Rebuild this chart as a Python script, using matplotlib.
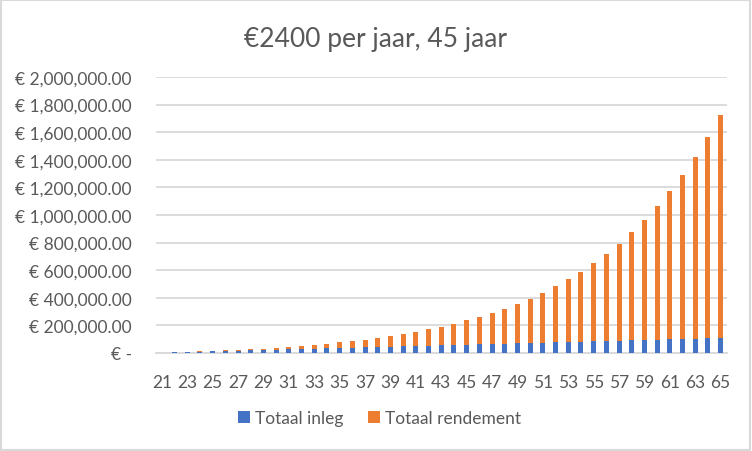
import matplotlib.pyplot as plt
from matplotlib.patches import Rectangle
from matplotlib.ticker import FuncFormatter

# leeftijd en bedragen per jaar
leeftijd = list(range(21, 66))
totaal_inleg = [2400, 4800, 7200, 9600, 12000, 14400, 16800, 19200, 21600, 24000,
                26400, 28800, 31200, 33600, 36000, 38400, 40800, 43200, 45600, 48000,
                50400, 52800, 55200, 57600, 60000, 62400, 64800, 67200, 69600, 72000,
                74400, 76800, 79200, 81600, 84000, 86400, 88800, 91200, 93600, 96000,
                98400, 100800, 103200, 105600, 108000]
totaal_rendement = [0, 240, 744, 1538, 2652, 4117, 5969, 8246, 10991, 14250,
                    18075, 22522, 27654, 33540, 40254, 47879, 56507, 66238, 77182, 89460,
                    103206, 118567, 135703, 154794, 176033, 199636, 225840, 254904, 287114, 322786,
                    362264, 405931, 454204, 507544, 566458, 631504, 703295, 782504, 869875, 966222,
                    1072444, 1189529, 1318562, 1460738, 1617372]

plt.rcParams['font.family'] = ['Lato', 'DejaVu Sans']
grey = '#595959'

fig = plt.figure(figsize=(7.52, 4.52), dpi=100)
ax = fig.add_axes([155.5 / 752, 1 - 354 / 452, (727 - 155.5) / 752, (354 - 78) / 452])

x = list(range(len(leeftijd)))
ax.bar(x, totaal_inleg, width=0.4, color='#4472C4', label='Totaal inleg', zorder=3)
ax.bar(x, totaal_rendement, width=0.4, bottom=totaal_inleg, color='#ED7D31',
       label='Totaal rendement', zorder=3)

ax.set_xlim(-0.5, len(leeftijd) - 0.5)
ax.set_ylim(0, 2000000)
ax.set_yticks(range(0, 2000001, 200000))


def euro(v, pos):
    if v == 0:
        return '€ -'
    return '€ {:,.2f}'.format(v)


ax.yaxis.set_major_formatter(FuncFormatter(euro))
ax.set_xticks(x[::2])
ax.set_xticklabels([str(a) for a in leeftijd[::2]])
ax.tick_params(axis='both', length=0, colors=grey, labelsize=12.5)
ax.tick_params(axis='y', pad=17)
ax.tick_params(axis='x', pad=15)
ax.grid(axis='y', color='#D9D9D9', linewidth=1.3, zorder=0)
for s in ['top', 'right', 'left']:
    ax.spines[s].set_visible(False)
ax.spines['bottom'].set_color('#D9D9D9')
ax.spines['bottom'].set_linewidth(1.3)

fig.suptitle('€2400 per jaar, 45 jaar', y=0.94, fontsize=19, color=grey)
fig.legend(loc='lower center', bbox_to_anchor=(0.505, 0.02), ncol=2, frameon=False,
           fontsize=12.5, labelcolor=grey, handlelength=0.7, handleheight=0.7,
           handletextpad=0.3, columnspacing=1.4)

fig.patches.append(Rectangle((0.001, 0.002), 0.997, 0.996, transform=fig.transFigure,
                             fill=False, edgecolor='#D9D9D9', linewidth=1.5))

fig.savefig('out.png', dpi=100)
